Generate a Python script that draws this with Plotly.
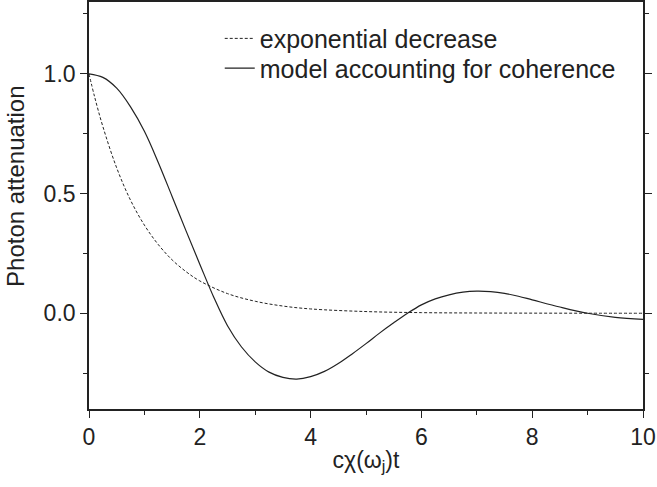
import plotly.graph_objects as go

# Values
x_exp = [0, 0.1, 0.25, 0.5, 0.75, 1.0, 1.25, 1.5, 1.75, 2.0, 2.5, 3.0, 3.5, 4.0, 5.0, 6.0, 7.0, 8.0, 9.0, 10.0]
y_exp = [1.0, 0.905, 0.78, 0.607, 0.472, 0.368, 0.287, 0.223, 0.174, 0.135, 0.082, 0.05, 0.03, 0.018, 0.007, 0.0025, 0.001, 0.0004, 0.0001, 0.0]

x_coh = [0, 0.25, 0.5, 0.75, 1.0, 1.25, 1.5, 1.75, 2.0, 2.25, 2.5, 2.75, 3.0, 3.25, 3.5, 3.75, 4.0,
         4.25, 4.5, 4.75, 5.0, 5.25, 5.5, 5.75, 6.0, 6.25, 6.5, 6.75, 7.0, 7.25, 7.5, 7.75, 8.0, 8.5, 9.0, 9.5, 10.0]
y_coh = [1.0, 0.985, 0.94, 0.862, 0.76, 0.63, 0.488, 0.345, 0.205, 0.068, -0.052, -0.14, -0.203, -0.246, -0.268, -0.275, -0.265,
         -0.243, -0.21, -0.17, -0.127, -0.082, -0.04, 0.0, 0.035, 0.06, 0.077, 0.088, 0.092, 0.09, 0.083, 0.071, 0.056, 0.026, 0.0, -0.017, -0.026]

name_exp = "exponential decrease"
name_coh = "model accounting for coherence"
x_title = "cχ(ω<sub>j</sub>)t"
y_title = "Photon attenuation"

FONT = "Liberation Sans, Arial, sans-serif"
INK = "#222222"

fig = go.Figure()
fig.add_trace(go.Scatter(x=x_exp, y=y_exp, mode="lines", name=name_exp, line_shape="spline",
                         line=dict(color=INK, width=1, dash="3px,2px"), legend="legend"))
fig.add_trace(go.Scatter(x=x_coh, y=y_coh, mode="lines", name=name_coh, line_shape="spline",
                         line=dict(color=INK, width=1.2), legend="legend2"))

axis_common = dict(showline=True, linecolor=INK, linewidth=1.6, mirror="ticks",
                   ticks="outside", ticklen=7, tickwidth=1.4, tickcolor=INK,
                   showgrid=False, zeroline=False, automargin=False,
                   tickfont=dict(family=FONT, size=23, color=INK))

fig.update_xaxes(range=[0, 10], dtick=2, tick0=0,
                 minor=dict(dtick=1, ticks="outside", ticklen=4, tickwidth=1.2, tickcolor=INK),
                 title=dict(text=x_title, font=dict(family=FONT, size=23, color=INK), standoff=2),
                 **axis_common)
fig.update_yaxes(range=[-0.4, 1.3], dtick=0.5, tick0=0, tickformat=".1f",
                 minor=dict(dtick=0.25, ticks="outside", ticklen=4, tickwidth=1.2, tickcolor=INK),
                 **axis_common)

# y-axis title as a rotated annotation so it can sit where the reference puts it
fig.add_annotation(text=y_title, textangle=-90, xref="paper", yref="paper",
                   x=0, y=0.548, xanchor="center", yanchor="middle", xshift=-73,
                   showarrow=False, font=dict(family=FONT, size=24, color=INK))

leg_font = dict(family=FONT, size=25, color=INK)
fig.update_layout(
    width=657, height=487,
    margin=dict(l=89, r=14, t=2, b=78, autoexpand=False),
    plot_bgcolor="white", paper_bgcolor="white",
    font=dict(family=FONT, color=INK),
    showlegend=True,
    legend=dict(x=0.236, y=0.91, xanchor="left", yanchor="middle",
                bgcolor="rgba(0,0,0,0)", borderwidth=0, font=leg_font),
    legend2=dict(x=0.236, y=0.837, xanchor="left", yanchor="middle",
                 bgcolor="rgba(0,0,0,0)", borderwidth=0, font=leg_font),
)

fig.write_html("out.html", config={"displayModeBar": False},
               post_script="document.body.style.margin='0';")
